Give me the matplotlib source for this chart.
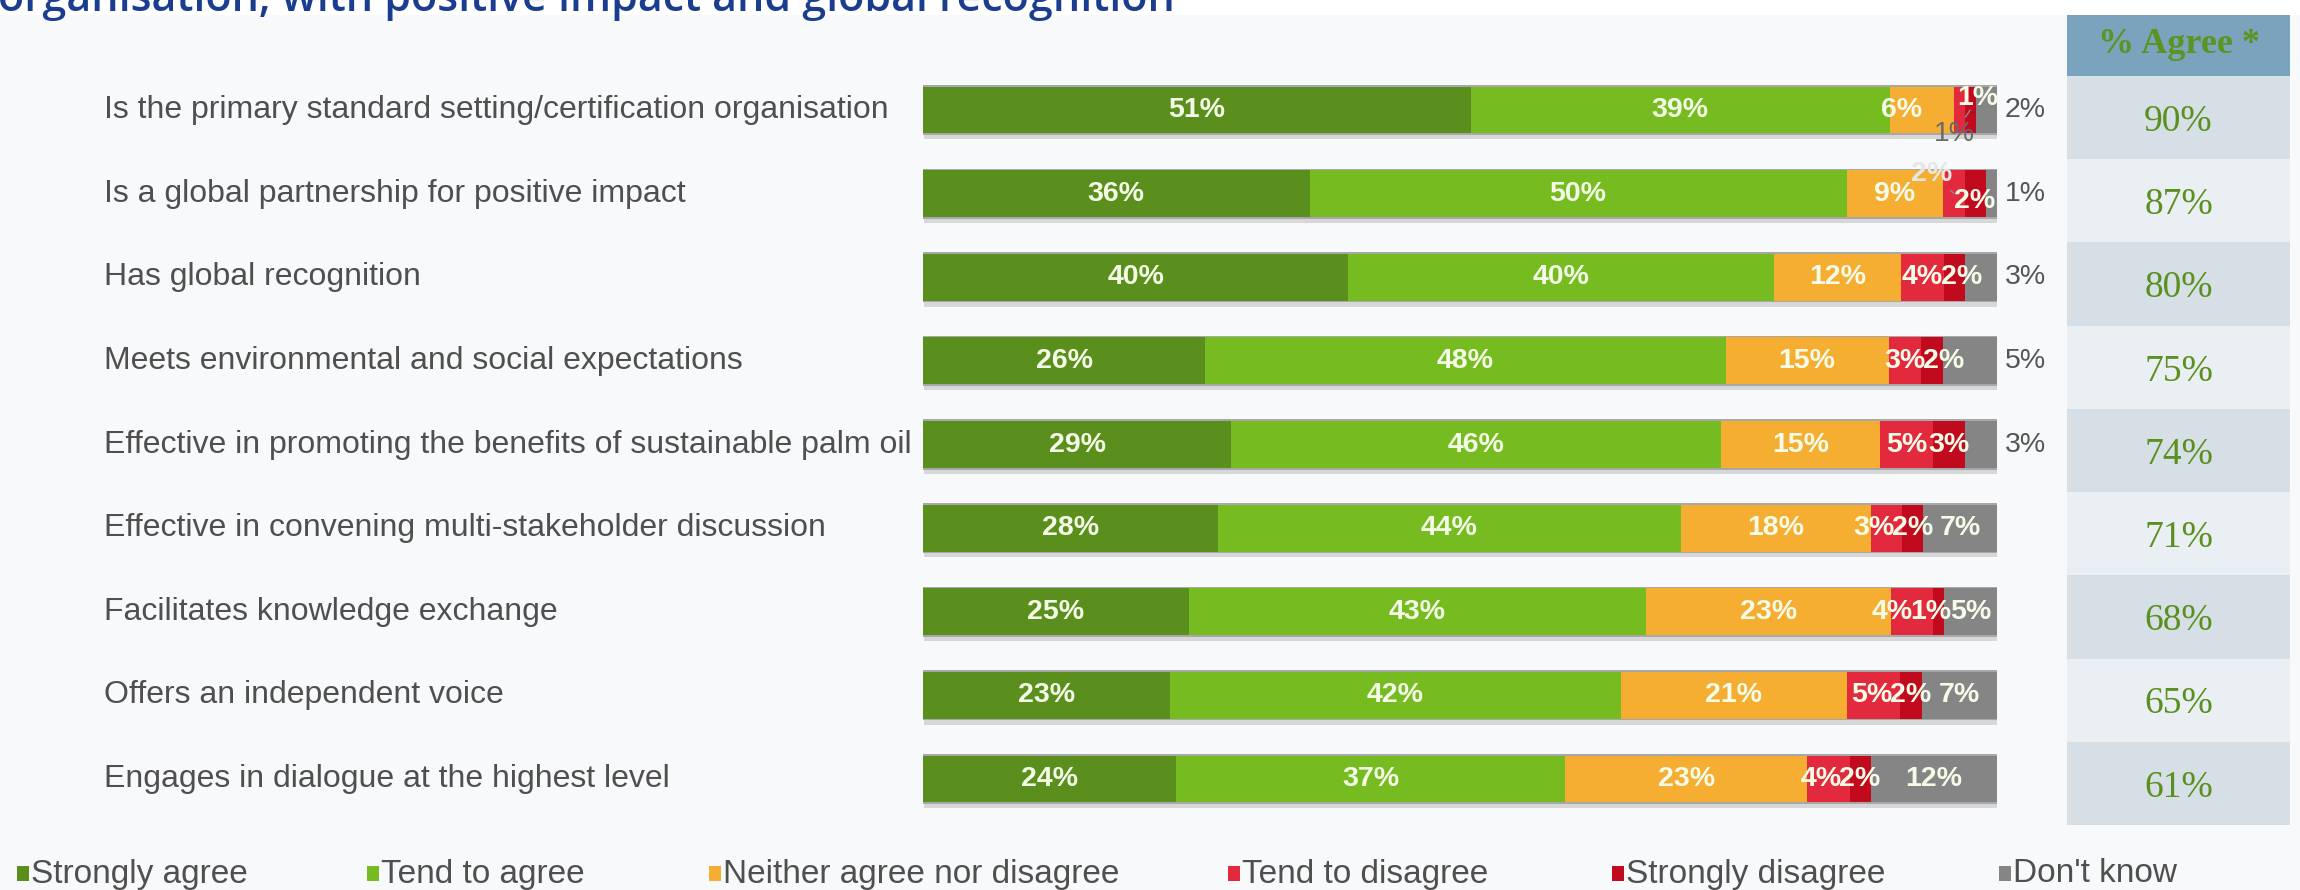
import matplotlib
matplotlib.use("Agg")
import matplotlib.pyplot as plt
from matplotlib.patches import Rectangle
import matplotlib.patheffects as pe
from matplotlib.transforms import offset_copy, blended_transform_factory
import numpy as np

W, H, DPI = 2300, 890, 100

# ---- data -------------------------------------------------------------
statements = [
    "Is the primary standard setting/certification organisation",
    "Is a global partnership for positive impact",
    "Has global recognition",
    "Meets environmental and social expectations",
    "Effective in promoting the benefits of sustainable palm oil",
    "Effective in convening multi-stakeholder discussion",
    "Facilitates knowledge exchange",
    "Offers an independent voice",
    "Engages in dialogue at the highest level",
]
strongly_agree    = [51, 36, 40, 26, 29, 28, 25, 23, 24]
tend_to_agree     = [39, 50, 40, 48, 46, 44, 43, 42, 37]
neither           = [6, 9, 12, 15, 15, 18, 23, 21, 23]
tend_to_disagree  = [1, 2, 4, 3, 5, 3, 4, 5, 4]
strongly_disagree = [1, 2, 2, 2, 3, 2, 1, 2, 2]
dont_know         = [2, 1, 3, 5, 3, 7, 5, 7, 12]
pct_agree         = [90, 87, 80, 75, 74, 71, 68, 65, 61]

series_names = ["Strongly agree", "Tend to agree", "Neither agree nor disagree",
                "Tend to disagree", "Strongly disagree", "Don't know"]
title_text = "organisation, with positive impact and global recognition"
table_header = "% Agree *"

# ---- styling ------------------------------------------------------------
colors = ["#5a8f1d", "#76bc21", "#f5ad32", "#e3293d", "#c20a1e", "#858585"]
BG = "#f8f9fb"
TEXT_GREY = "#4f4f4f"
LABEL_WHITE = "#f4fbe6"
SANS = ["Liberation Sans", "DejaVu Sans"]
SERIF = ["Liberation Serif", "DejaVu Serif"]

# rows whose "Don't know" value is written to the right of the bar
outside_dk_rows = {0, 1, 2, 3, 4}
# hand-placed labels: (row, series) -> pixel offsets from segment centre
label_overrides = {
    (0, 2): dict(dx=-20, dy=0),
    (0, 3): dict(dx=18, dy=12),
    (0, 4): dict(dx=-16, dy=-24, color="#6a6a6a", weight="normal", leader=True),
    (1, 3): dict(dx=-22, dy=20, color="#e6e6e6", leader=True),
    (1, 4): dict(dx=-1, dy=-7),
}


def px_box(x0, y0, x1, y1):
    return [x0 / W, 1 - y1 / H, (x1 - x0) / W, (y1 - y0) / H]


fig = plt.figure(figsize=(W / DPI, H / DPI), dpi=DPI, facecolor=BG)

# white strip at the top carrying the (clipped) heading
fig.patches.append(Rectangle((0, 1 - 15 / H), 1, 15 / H, transform=fig.transFigure,
                             facecolor="white", edgecolor="none", zorder=0))
fig.text(-2 / W, 1 - 11 / H, title_text, fontsize=31, fontweight="semibold",
         color="#1b3d8f", family=["Open Sans", "DejaVu Sans"],
         ha="left", va="baseline", zorder=2)

# ---- stacked bars -------------------------------------------------------
ax = fig.add_axes(px_box(923, 68.2, 1997, 820.8))
ax.set_xlim(0, 100)
ax.set_ylim(len(statements) - 0.5, -0.5)
ax.axis("off")

data = np.array([strongly_agree, tend_to_agree, neither,
                 tend_to_disagree, strongly_disagree, dont_know], dtype=float)
totals = data.sum(axis=0)
shares = data / totals * 100
y = np.arange(len(statements))

# grey frame + soft shadow behind each bar
ax.barh(y, 100.25, left=-0.15, height=0.6, color="#a8a8a8", edgecolor="none", zorder=1,
        path_effects=[pe.SimplePatchShadow(offset=(2, -3), shadow_rgbFace="#9a9a9a", alpha=0.35),
                      pe.Normal()])
left = np.zeros(len(statements))
for k in range(len(series_names)):
    ax.barh(y, shares[k], left=left, height=0.56, color=colors[k], edgecolor="none",
            zorder=2, label=series_names[k])
    left += shares[k]

# category labels
label_tf = blended_transform_factory(fig.transFigure, ax.transData)
for i, s in enumerate(statements):
    ax.text(104 / W, i, s, transform=label_tf, ha="left", va="center",
            fontsize=23, color=TEXT_GREY, family=SANS)

# value labels
lab_kw = dict(fontsize=20.5, fontweight="bold", family=SANS, color=LABEL_WHITE,
              ha="center", va="center", zorder=5)
row_labels = {i: [] for i in range(len(statements))}
starts = np.vstack([np.zeros(len(statements)), np.cumsum(shares, axis=0)[:-1]])
for i in range(len(statements)):
    for k in range(len(series_names)):
        val = int(data[k, i])
        cx = starts[k, i] + shares[k, i] / 2
        if k == 5 and i in outside_dk_rows:
            ax.text(100, i, f"{val}%", ha="left", va="center", fontsize=20.5,
                    family=SANS, color="#555555", zorder=5,
                    transform=offset_copy(ax.transData, fig=fig, x=8, y=0, units="dots"))
            continue
        ov = label_overrides.get((i, k))
        if ov is not None:
            kw = dict(lab_kw)
            kw["color"] = ov.get("color", LABEL_WHITE)
            kw["fontweight"] = ov.get("weight", "bold")
            if ov.get("leader"):
                ax.annotate(f"{val}%", xy=(cx, i), xytext=(ov["dx"], ov["dy"]),
                            textcoords="offset pixels",
                            arrowprops=dict(arrowstyle="-", color="#8a8a8a", lw=1.0,
                                            shrinkA=1, shrinkB=0), **kw)
            else:
                ax.text(cx, i, f"{val}%",
                        transform=offset_copy(ax.transData, fig=fig, x=ov["dx"], y=ov["dy"],
                                              units="dots"), **kw)
            continue
        t = ax.text(cx, i, f"{val}%", **lab_kw)
        row_labels[i].append(t)

# nudge crowded labels so neighbours don't sit on top of each other
fig.canvas.draw()
renderer = fig.canvas.get_renderer()
px_per_unit = ax.get_window_extent().width / 100.0
overlap = 2.0
for i, texts in row_labels.items():
    if len(texts) < 2:
        continue
    boxes = [t.get_window_extent(renderer) for t in texts]
    lefts = [b.x0 for b in boxes]
    rights = [b.x1 for b in boxes]
    shift = [0.0] * len(texts)
    if i in outside_dk_rows:
        for j in range(1, len(texts)):
            need = (rights[j - 1] + shift[j - 1] - overlap) - lefts[j]
            if need > 0:
                shift[j] = need
    else:
        for j in range(len(texts) - 2, -1, -1):
            need = rights[j] - (lefts[j + 1] + shift[j + 1] + overlap)
            if need > 0:
                shift[j] = -need
    for t, s in zip(texts, shift):
        if s:
            x0, y0 = t.get_position()
            t.set_position((x0 + s / px_per_unit, y0))

# ---- "% Agree" table -----------------------------------------------------
tax = fig.add_axes(px_box(2067, 4, 2290, 825))
head_h = 72 / 83.2
tax.set_xlim(0, 1)
tax.set_ylim(len(statements) - 0.5, -0.5 - head_h)
tax.axis("off")
row_cols = ["#d6dfe6" if i % 2 == 0 else "#e9eff2" for i in range(len(statements))]
tax.barh(y, 1, height=1.0, color=row_cols, edgecolor="none")
tax.barh([-0.5 - head_h / 2], 1, height=head_h, color="#7aa3bd", edgecolor="none")
tax.text(0.5, -0.5 - head_h / 2, table_header, ha="center", va="center_baseline",
         fontsize=26, fontweight="bold", color="#5b9420", family=SERIF)
for i, v in enumerate(pct_agree):
    tax.text(0.5, i, f"{v}%", ha="center", va="center_baseline", fontsize=27,
             color="#5b8f1f", family=SERIF)

# ---- legend ----------------------------------------------------------------
legend_x = [17, 367, 709, 1228, 1612, 1999]
ly = 874
for name, col, lx in zip(series_names, colors, legend_x):
    fig.patches.append(Rectangle((lx / W, 1 - (ly + 7) / H), 12 / W, 15 / H,
                                 transform=fig.transFigure, facecolor=col,
                                 edgecolor="none"))
    fig.text((lx + 14) / W, 1 - ly / H, name, ha="left", va="center", fontsize=24,
             color=TEXT_GREY, family=SANS)

fig.savefig("out.png", dpi=DPI, facecolor=BG)
